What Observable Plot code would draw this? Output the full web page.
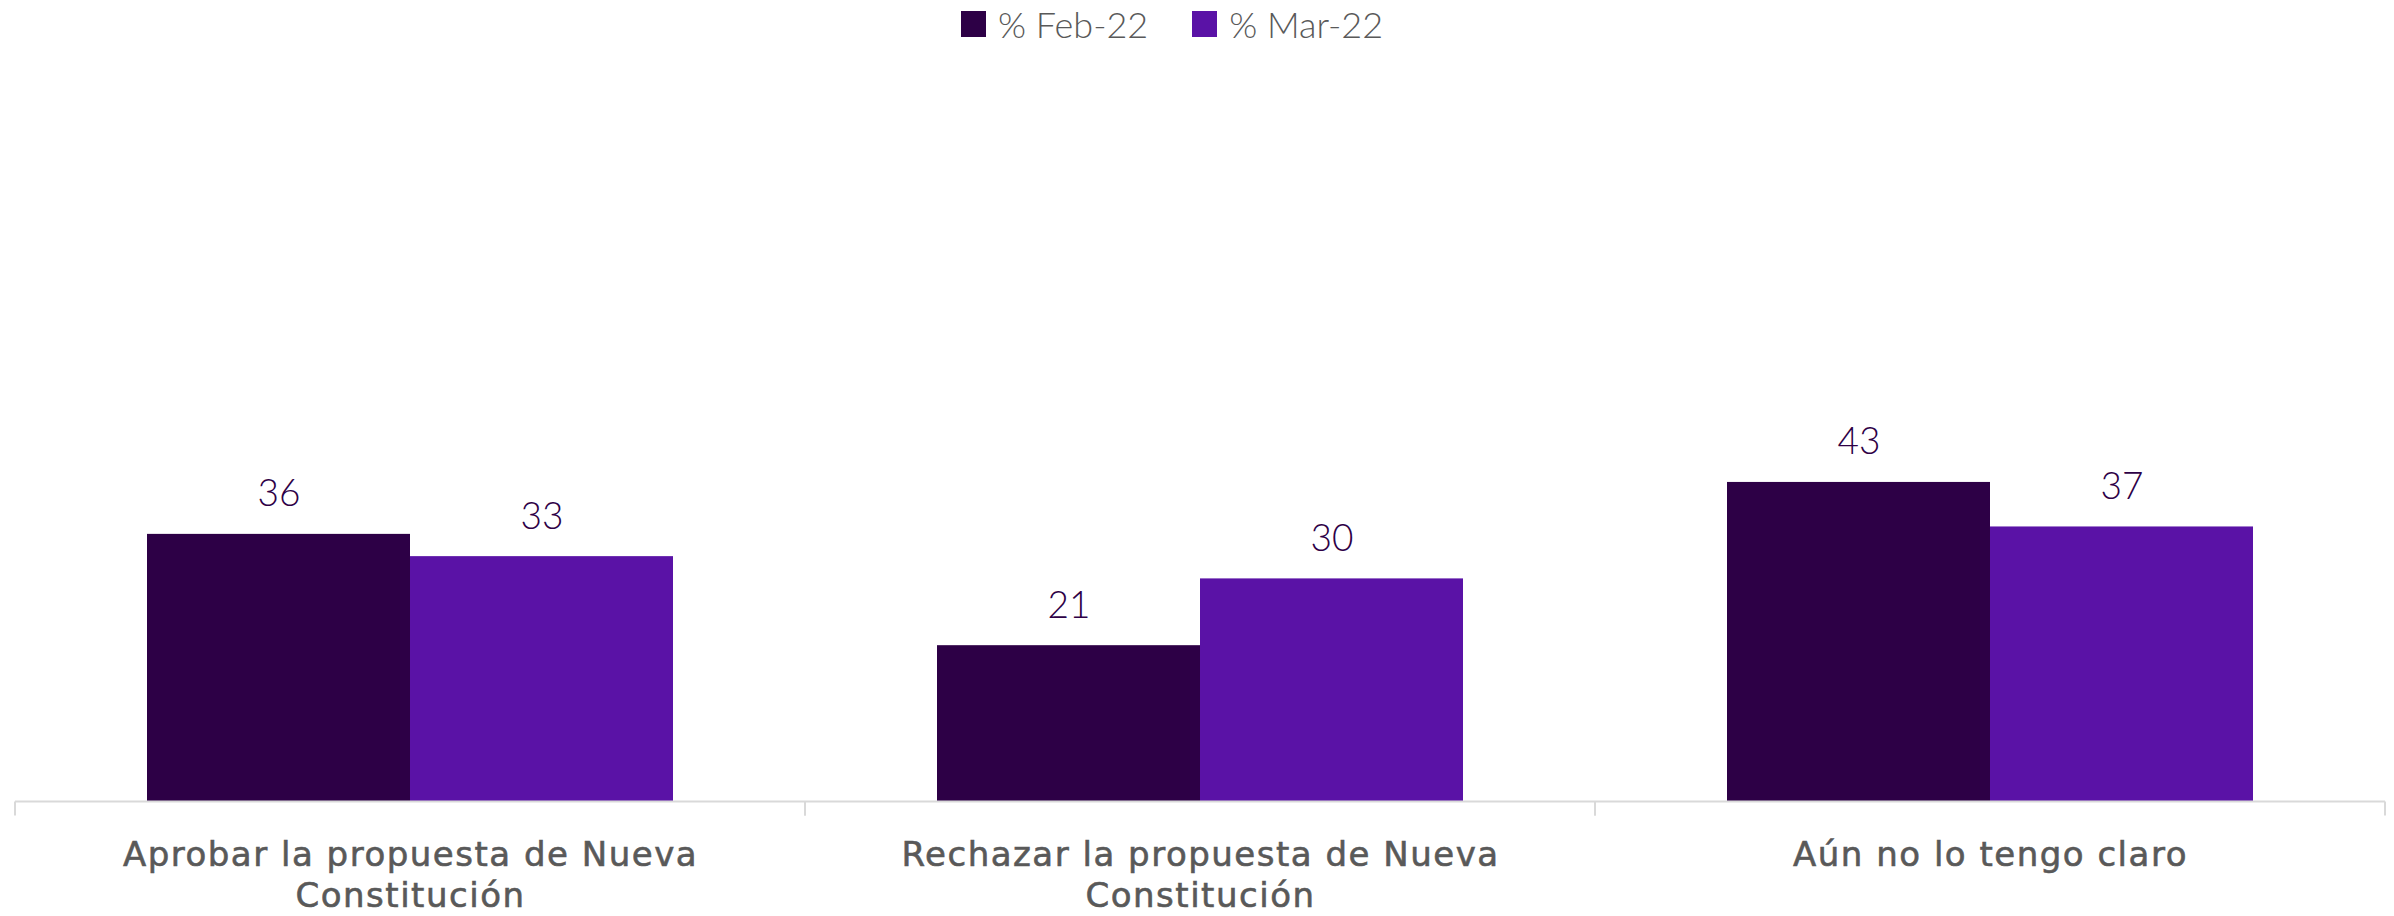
<!DOCTYPE html>
<html>
<head>
<meta charset="utf-8">
<script src="https://cdn.jsdelivr.net/npm/d3@7"></script>
<script src="https://cdn.jsdelivr.net/npm/@observablehq/plot@0.6"></script>
<style>
  html, body { margin: 0; padding: 0; background: #fff; }
  #legend {
    height: 56px; box-sizing: border-box; padding-bottom: 8px; padding-right: 50px;
    display: flex; justify-content: center; align-items: center;
    font-family: Lato, sans-serif; font-weight: 300; font-size: 36px; color: #595959;
  }
  .item { display: flex; align-items: center; margin: 0 22px; }
  .sw { width: 25px; height: 26px; margin-right: 12px; }
  #chart svg { display: block; }
  #chart g[aria-label="fx-axis tick label"] text { letter-spacing: 1.5px; stroke: #595959; stroke-width: 0.6px; }
</style>
</head>
<body>
<div id="legend"></div>
<div id="chart"></div>
<script>
const categories = [
  "Aprobar la propuesta de Nueva Constitución",
  "Rechazar la propuesta de Nueva Constitución",
  "Aún no lo tengo claro"
];
const tickLabels = [
  "Aprobar la propuesta de Nueva\nConstitución",
  "Rechazar la propuesta de Nueva\nConstitución",
  "Aún no lo tengo claro"
];
const series = ["% Feb-22", "% Mar-22"];
const feb22 = [36, 21, 43];
const mar22 = [33, 30, 37];
const colors = ["#2D0046", "#5A12A6"];

const data = [];
categories.forEach((c, i) => {
  data.push({category: c, series: series[0], value: feb22[i]});
  data.push({category: c, series: series[1], value: mar22[i]});
});

const legend = document.getElementById("legend");
series.forEach((s, i) => {
  const it = document.createElement("div");
  it.className = "item";
  it.innerHTML = `<span class="sw" style="background:${colors[i]}"></span><span>${s}</span>`;
  legend.appendChild(it);
});

const labelOf = new Map(categories.map((c, i) => [c, tickLabels[i]]));

const chart = Plot.plot({
  width: 2394,
  height: 860,
  marginTop: 3,
  marginBottom: 115,
  marginLeft: 15,
  marginRight: 9,
  fx: {domain: categories, padding: 0, axis: null},
  x: {domain: series, paddingInner: 0, paddingOuter: 0.5, axis: null},
  y: {domain: [0, 100], axis: null},
  color: {domain: series, range: colors},
  marks: [
    Plot.barY(data, {fx: "category", x: "series", y: "value", fill: "series"}),
    Plot.text(data, {
      fx: "category", x: "series", y: "value", text: d => String(d.value),
      lineAnchor: "bottom", dy: -28, fill: "#2E0046",
      fontFamily: "Lato, sans-serif", fontWeight: 300, fontSize: 37
    }),
    Plot.ruleY([0], {
      stroke: "#d9d9d9", strokeWidth: 2,
      render: (index, scales, values, dims, context, next) => {
        const g = next(index, scales, values, dims, context);
        const [x0, x1] = scales.x.range();
        const y0 = scales.y(0);
        for (const xx of [x0, x1]) {
          const line = document.createElementNS("http://www.w3.org/2000/svg", "line");
          line.setAttribute("x1", xx); line.setAttribute("x2", xx);
          line.setAttribute("y1", y0); line.setAttribute("y2", y0 + 14);
          line.setAttribute("stroke", "#d9d9d9"); line.setAttribute("stroke-width", 2);
          g.appendChild(line);
        }
        return g;
      }
    }),
    Plot.axisFx({
      anchor: "bottom", tickSize: 0, tickPadding: 36, label: null,
      tickFormat: c => labelOf.get(c), lineHeight: 1.2,
      fontSize: 34, fontFamily: "DejaVu Sans, sans-serif", fill: "#595959"
    })
  ]
});
document.getElementById("chart").appendChild(chart);
</script>
</body>
</html>
